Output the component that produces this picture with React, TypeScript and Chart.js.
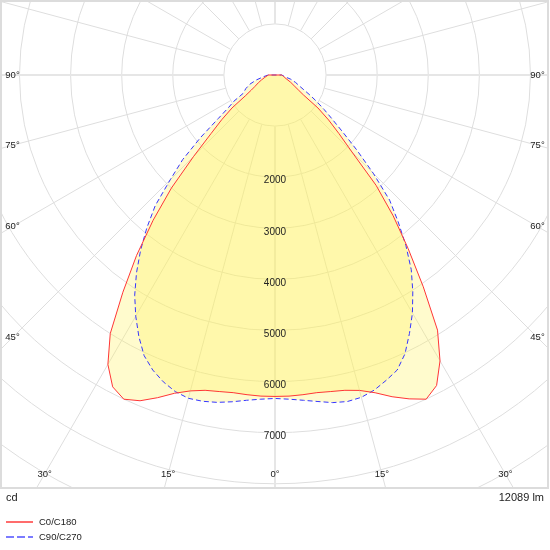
import { useEffect, useRef } from 'react';
import { Chart, registerables } from 'chart.js';

Chart.register(...registerables);

// Angles from nadir (degrees)
const ANGLES = [0, 2.5, 5, 7.5, 10, 12.5, 15, 17.5, 20, 22.5, 25, 27.5, 30, 32.5, 35, 37.5, 40, 42.5, 45, 47.5, 50, 52.5, 55, 57.5, 60, 65, 70, 75, 80, 85, 90];

// Luminous intensity (cd) per half-plane
const C0 = [6290, 6290, 6280, 6270, 6290, 6320, 6390, 6520, 6700, 6860, 7000, 6850, 6460, 5920, 5060, 4280, 3600, 2930, 2130, 1700, 1370, 1060, 680, 540, 450, 340, 250, 200, 170, 150, 130];
const C180 = [6290, 6290, 6280, 6270, 6290, 6320, 6400, 6530, 6720, 6900, 7000, 6880, 6540, 6000, 5190, 4450, 3710, 3000, 2250, 1700, 1360, 1060, 700, 550, 460, 360, 280, 220, 180, 150, 130];
const C90 = [6330, 6350, 6390, 6445, 6510, 6545, 6530, 6465, 6360, 6250, 6020, 5700, 5380, 5020, 4650, 4210, 3750, 3320, 2720, 2170, 1720, 1400, 1170, 970, 800, 550, 430, 320, 200, 160, 130];
const C270 = [6330, 6350, 6390, 6450, 6505, 6540, 6550, 6495, 6390, 6250, 6060, 5770, 5450, 5110, 4725, 4320, 3900, 3470, 2900, 2450, 1900, 1400, 1110, 950, 720, 630, 520, 380, 250, 180, 130];

const RINGS = [1000, 2000, 3000, 4000, 5000, 6000, 7000, 8000, 9000, 10000, 11000];
const TICK_LABELS = [2000, 3000, 4000, 5000, 6000, 7000];
const ANGLE_LABELS = [0, 15, 30, 45, 60, 75, 90];
const SERIES_NAMES = ['C0/C180', 'C90/C270'];
const UNIT_LABEL = 'cd';
const FLUX_LABEL = '12089 lm';

// axis ranges (cd)
const X_MIN = -5362;
const X_MAX = 5343;
const Y_MIN = -8082;
const Y_MAX = 1448;

const RED = '#ff3535';
const BLUE = '#3535ff';
const FILL = 'rgba(255, 242, 93, 0.31)';
const FONT = '"Liberation Sans", Arial, sans-serif';

function toPoints(right: number[], left: number[]) {
  const pts: { x: number; y: number }[] = [];
  for (let i = ANGLES.length - 1; i >= 0; i--) {
    const a = (ANGLES[i] * Math.PI) / 180;
    pts.push({ x: -left[i] * Math.sin(a), y: -left[i] * Math.cos(a) });
  }
  for (let i = 0; i < ANGLES.length; i++) {
    const a = (ANGLES[i] * Math.PI) / 180;
    pts.push({ x: right[i] * Math.sin(a), y: -right[i] * Math.cos(a) });
  }
  pts.push({ ...pts[0] });
  return pts;
}

const polarPlugin = {
  id: 'polarPlugin',
  beforeDraw(chart: any) {
    const { ctx, chartArea } = chart;
    const xs = chart.scales.x;
    const ys = chart.scales.y;
    const cx = xs.getPixelForValue(0);
    const cy = ys.getPixelForValue(0);
    const k = (xs.getPixelForValue(1000) - cx) / 1000;
    ctx.save();
    ctx.beginPath();
    ctx.rect(chartArea.left, chartArea.top, chartArea.right - chartArea.left, chartArea.bottom - chartArea.top);
    ctx.clip();
    // rings
    ctx.strokeStyle = '#dedede';
    ctx.lineWidth = 1;
    for (const v of RINGS) {
      ctx.beginPath();
      ctx.arc(cx, cy, v * k, 0, Math.PI * 2);
      ctx.stroke();
    }
    // spokes
    const r0 = RINGS[0] * k;
    const rMax = 2000;
    for (let a = 0; a < 360; a += 15) {
      const rad = (a * Math.PI) / 180;
      const major = a % 90 === 0;
      ctx.strokeStyle = major ? '#e6e6e6' : '#dedede';
      ctx.lineWidth = major ? 2 : 1;
      ctx.beginPath();
      ctx.moveTo(cx + r0 * Math.sin(rad), cy + r0 * Math.cos(rad));
      ctx.lineTo(cx + rMax * Math.sin(rad), cy + rMax * Math.cos(rad));
      ctx.stroke();
    }
    ctx.restore();
  },
  afterDraw(chart: any) {
    const { ctx, chartArea } = chart;
    const xs = chart.scales.x;
    const ys = chart.scales.y;
    const cx = xs.getPixelForValue(0);
    const cy = ys.getPixelForValue(0);
    const k = (xs.getPixelForValue(1000) - cx) / 1000;
    ctx.save();
    ctx.fillStyle = '#222';
    // intensity labels
    ctx.font = `10px ${FONT}`;
    ctx.textAlign = 'center';
    ctx.textBaseline = 'middle';
    for (const v of TICK_LABELS) {
      ctx.fillText(String(v), cx, cy + v * k + 3.5);
    }
    // angle labels
    ctx.font = `9.5px ${FONT}`;
    const insetL = chartArea.left + 11.5;
    const insetR = chartArea.right - 10.5;
    const insetB = chartArea.bottom - 14;
    for (const ang of ANGLE_LABELS) {
      const rad = (ang * Math.PI) / 180;
      const sides = ang === 0 ? [1] : [-1, 1];
      for (const s of sides) {
        const sn = Math.sin(rad);
        const cs = Math.cos(rad);
        let t = Infinity;
        if (cs > 1e-6) t = Math.min(t, (insetB - cy) / cs);
        if (sn > 1e-6) t = Math.min(t, (s < 0 ? cx - insetL : insetR - cx) / sn);
        ctx.fillText(`${ang}°`, cx + s * t * sn, cy + t * cs);
      }
    }
    // frame
    ctx.strokeStyle = '#dcdcdc';
    ctx.lineWidth = 2;
    ctx.strokeRect(chartArea.left, chartArea.top, chartArea.right - chartArea.left, chartArea.bottom - chartArea.top);
    // unit and flux
    ctx.font = `11px ${FONT}`;
    ctx.textBaseline = 'middle';
    ctx.textAlign = 'left';
    ctx.fillStyle = '#222';
    ctx.fillText(UNIT_LABEL, 6, chartArea.bottom + 10);
    ctx.textAlign = 'right';
    ctx.fillText(FLUX_LABEL, chartArea.right - 4, chartArea.bottom + 10);
    // legend
    ctx.font = `9.5px ${FONT}`;
    ctx.textAlign = 'left';
    const rows = [chartArea.bottom + 34, chartArea.bottom + 49];
    const colors = ['#ff6c6c', '#7b7bff'];
    SERIES_NAMES.forEach((name, i) => {
      ctx.strokeStyle = colors[i];
      ctx.lineWidth = 2;
      ctx.setLineDash(i === 1 ? [8, 3] : []);
      ctx.beginPath();
      ctx.moveTo(6, rows[i]);
      ctx.lineTo(33, rows[i]);
      ctx.stroke();
      ctx.setLineDash([]);
      ctx.fillStyle = '#222';
      ctx.fillText(name, 39, rows[i] + 0.5);
    });
    ctx.restore();
  },
};

export default function App() {
  const ref = useRef<HTMLCanvasElement | null>(null);
  useEffect(() => {
    document.body.style.margin = '0';
    const canvas = ref.current;
    if (!canvas) return;
    const chart = new Chart(canvas, {
      type: 'scatter',
      data: {
        datasets: [
          {
            label: SERIES_NAMES[0],
            data: toPoints(C0, C180),
            showLine: true,
            borderColor: RED,
            borderWidth: 1,
            backgroundColor: FILL,
            fill: 'shape',
            pointRadius: 0,
            tension: 0,
          } as any,
          {
            label: SERIES_NAMES[1],
            data: toPoints(C90, C270),
            showLine: true,
            borderColor: BLUE,
            borderWidth: 1,
            borderDash: [5, 3],
            backgroundColor: FILL,
            fill: 'shape',
            pointRadius: 0,
            tension: 0,
          } as any,
        ],
      },
      options: {
        animation: false,
        responsive: false,
        events: [],
        layout: { padding: { left: 1, top: 1, right: 2, bottom: 62 } },
        scales: {
          x: { type: 'linear', min: X_MIN, max: X_MAX, display: false },
          y: { type: 'linear', min: Y_MIN, max: Y_MAX, display: false },
        },
        plugins: {
          legend: { display: false },
          tooltip: { enabled: false },
          filler: { drawTime: 'beforeDatasetsDraw' },
        } as any,
      },
      plugins: [polarPlugin],
    });
    return () => chart.destroy();
  }, []);
  return (
    <div style={{ width: 550, height: 550, background: '#fff' }}>
      <canvas ref={ref} width={550} height={550} style={{ display: 'block', width: 550, height: 550 }} />
    </div>
  );
}
